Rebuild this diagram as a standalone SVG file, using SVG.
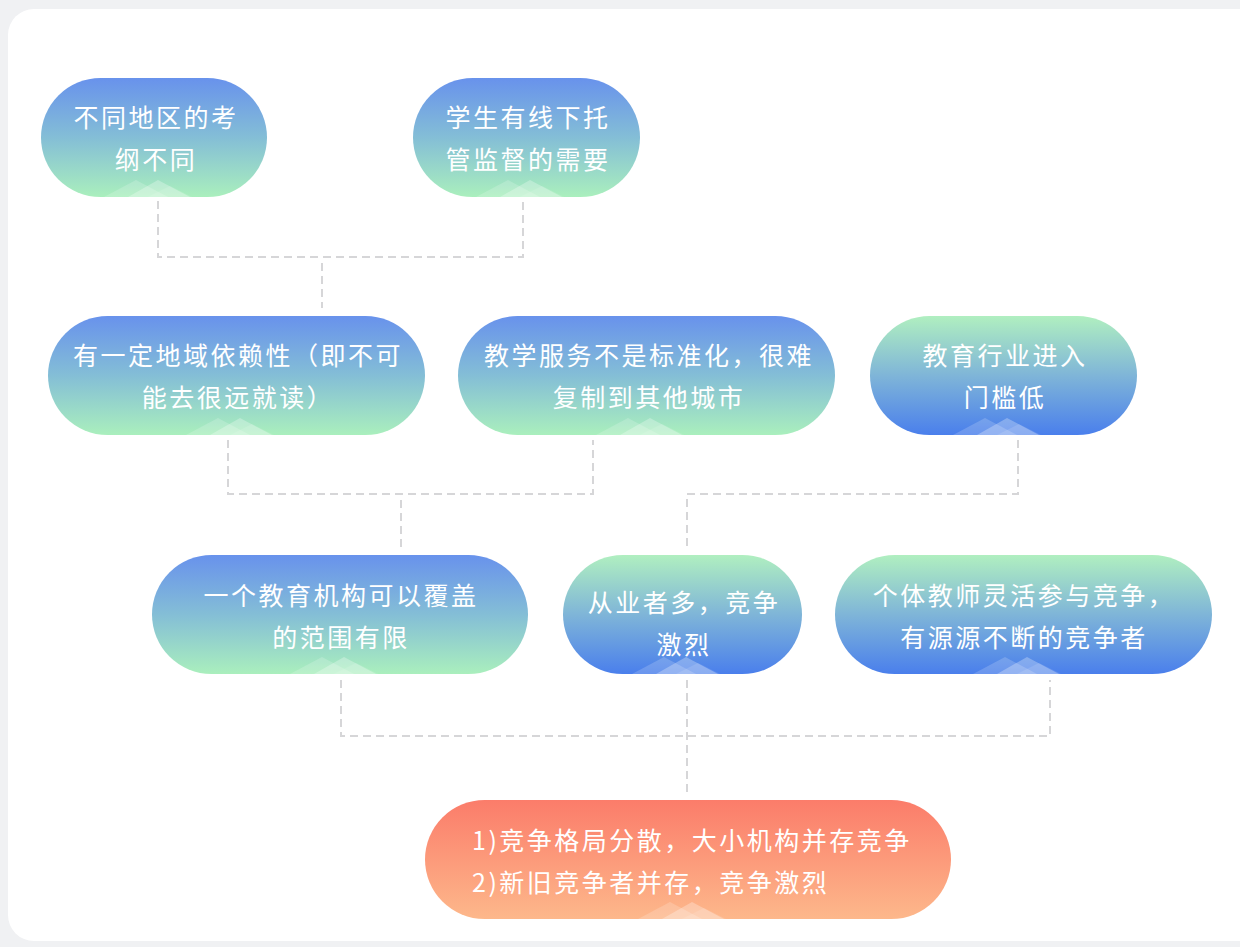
<svg xmlns="http://www.w3.org/2000/svg" width="1240" height="947" viewBox="0 0 1240 947">
<defs>
<linearGradient id="gBG" x1="0" y1="0" x2="0" y2="1"><stop offset="0" stop-color="#6892ec"/><stop offset="0.5" stop-color="#84bed6"/><stop offset="1" stop-color="#aaefbd"/></linearGradient>
<linearGradient id="gGB" x1="0" y1="0" x2="0" y2="1"><stop offset="0" stop-color="#b0efc0"/><stop offset="0.5" stop-color="#7fb5d8"/><stop offset="1" stop-color="#4a7fec"/></linearGradient>
<linearGradient id="gOR" x1="0" y1="0" x2="0" y2="1"><stop offset="0" stop-color="#fb7c6a"/><stop offset="1" stop-color="#fdb88b"/></linearGradient>
<g id="mtn">
<polygon points="-50,0 -18,-17 14,0" fill="#ffffff" fill-opacity="0.18"/>
<polygon points="-26,0 4,-17 36,0" fill="#ffffff" fill-opacity="0.28"/>
<polygon points="-6,0 16,-11 38,0" fill="#ffffff" fill-opacity="0.12"/>
</g>
</defs>
<style>
.t{font-family:"Noto Sans CJK SC","Noto Sans",sans-serif;font-size:25px;fill:#ffffff;letter-spacing:2.5px}
.c{text-anchor:middle}
.cn{fill:none;stroke:#d6d6d8;stroke-width:2;stroke-dasharray:8 5}
</style>
<rect x="0" y="0" width="1240" height="947" fill="#f0f1f3"/>
<rect x="8" y="9" width="1262" height="932" rx="26" fill="#ffffff"/>
<g id="connectors">
<path class="cn" d="M158 201V257H523V201"/>
<path class="cn" d="M322 263V308"/>
<path class="cn" d="M228 440V494H593V440"/>
<path class="cn" d="M401 500V548"/>
<path class="cn" d="M1018 440V494H687V548"/>
<path class="cn" d="M341 680V736H1050V680"/>
<path class="cn" d="M687 680V795"/>
</g>
<g id="n1">
<rect x="41" y="78" width="226" height="119" rx="59.5" fill="url(#gBG)"/>
<use href="#mtn" x="154" y="197"/>
<text class="t c" x="156" y="127">不同地区的考</text>
<text class="t c" x="156" y="169">纲不同</text>
</g>
<g id="n2">
<rect x="413" y="78" width="227" height="119" rx="59.5" fill="url(#gBG)"/>
<use href="#mtn" x="526" y="197"/>
<text class="t c" x="528" y="127">学生有线下托</text>
<text class="t c" x="528" y="169">管监督的需要</text>
</g>
<g id="n3">
<rect x="48" y="316" width="377" height="119" rx="59.5" fill="url(#gBG)"/>
<use href="#mtn" x="236" y="435"/>
<text class="t c" x="238" y="365">有一定地域依赖性（即不可</text>
<text class="t c" x="238" y="407">能去很远就读）</text>
</g>
<g id="n4">
<rect x="458" y="316" width="377" height="119" rx="59.5" fill="url(#gBG)"/>
<use href="#mtn" x="646" y="435"/>
<text class="t c" x="649" y="365">教学服务不是标准化，很难</text>
<text class="t c" x="649" y="407">复制到其他城市</text>
</g>
<g id="n5">
<rect x="870" y="316" width="267" height="119" rx="59.5" fill="url(#gGB)"/>
<use href="#mtn" x="1003" y="435"/>
<text class="t c" x="1005" y="365">教育行业进入</text>
<text class="t c" x="1005" y="407">门槛低</text>
</g>
<g id="n6">
<rect x="152" y="555" width="376" height="119" rx="59.5" fill="url(#gBG)"/>
<use href="#mtn" x="340" y="674"/>
<text class="t c" x="341" y="605">一个教育机构可以覆盖</text>
<text class="t c" x="341" y="647">的范围有限</text>
</g>
<g id="n7">
<rect x="563" y="555" width="239" height="119" rx="59.5" fill="url(#gGB)"/>
<use href="#mtn" x="682" y="674"/>
<text class="t c" x="684" y="612">从业者多，竞争</text>
<text class="t c" x="684" y="654">激烈</text>
</g>
<g id="n8">
<rect x="835" y="555" width="377" height="119" rx="59.5" fill="url(#gGB)"/>
<use href="#mtn" x="1023" y="674"/>
<text class="t c" x="1024" y="605">个体教师灵活参与竞争，</text>
<text class="t c" x="1024" y="647">有源源不断的竞争者</text>
</g>
<g id="n9">
<rect x="425" y="800" width="526" height="119" rx="59.5" fill="url(#gOR)"/>
<use href="#mtn" x="688" y="919"/>
<text class="t" x="472" y="850">1)竞争格局分散，大小机构并存竞争</text>
<text class="t" x="472" y="892">2)新旧竞争者并存，竞争激烈</text>
</g>
</svg>
